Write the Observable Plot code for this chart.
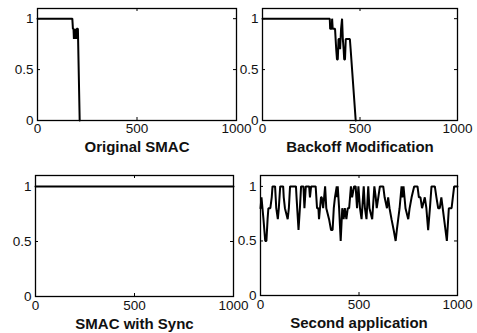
<!DOCTYPE html>
<html><head><meta charset="utf-8">
<script src="https://cdn.jsdelivr.net/npm/d3@7"></script>
<script src="https://cdn.jsdelivr.net/npm/@observablehq/plot@0.6"></script>
<style>
body{margin:0;background:#fff;}
#chart{position:relative;width:477px;height:333px;overflow:hidden;background:#fff;}
#chart svg{position:absolute;}
</style></head><body><div id="chart"></div>
<script>
const titles = ["Original SMAC", "Backoff Modification", "SMAC with Sync", "Second application"];
const xTicks = [0, 500, 1000];
const yTicks = [0, 0.5, 1];

// Original SMAC
const xOrig = [0, 175, 178, 181, 183, 185, 187, 189, 191, 193, 195, 197, 200, 203, 212];
const yOrig = [1, 1, 0.9, 0.9, 0.8, 0.9, 0.8, 0.9, 0.8, 0.9, 0.8, 0.9, 0.9, 0.9, 0];

// Backoff Modification
const xBack = [0, 345, 347, 355, 357, 360, 372, 378, 382, 386, 390, 395, 398, 403, 408, 412, 416, 419, 423, 427, 448, 452, 478];
const yBack = [1, 1, 0.9, 0.9, 1, 0.9, 0.9, 0.7, 0.6, 0.6, 0.8, 0.8, 0.7, 0.9, 1, 0.8, 0.7, 0.6, 0.6, 0.8, 0.8, 0.7, 0];

// SMAC with Sync
const xSync = [0, 1000];
const ySync = [1, 1];

// Second application
const xSec = [0, 5, 10, 15, 24, 30, 36, 40, 50, 57, 61, 74, 77, 80, 88, 93, 100, 115, 118, 124, 138, 144, 150, 180, 183, 193, 200, 206, 218, 223, 230, 247, 251, 257, 280, 287, 294, 297, 302, 307, 311, 318, 328, 334, 348, 358, 366, 372, 378, 387, 389, 392, 399, 407, 415, 422, 428, 436, 443, 450, 459, 465, 475, 483, 490, 497, 505, 513, 524, 530, 538, 547, 553, 567, 578, 585, 590, 598, 606, 623, 630, 642, 648, 655, 665, 676, 686, 692, 699, 706, 716, 720, 726, 736, 750, 757, 767, 780, 797, 804, 812, 820, 834, 842, 851, 860, 868, 885, 893, 902, 910, 918, 932, 946, 956, 970, 983, 1000];
const ySec = [0.8, 0.9, 0.8, 0.7, 0.5, 0.5, 0.7, 0.8, 0.8, 0.9, 1, 1, 0.9, 0.8, 0.7, 0.8, 1, 1, 0.9, 0.8, 0.7, 0.8, 1, 1, 0.9, 0.6, 0.8, 1, 1, 0.8, 1, 1, 0.9, 1, 1, 0.8, 0.8, 0.7, 0.8, 0.9, 0.9, 0.8, 1, 0.8, 0.7, 0.6, 0.6, 0.8, 0.9, 1, 0.9, 1, 0.8, 0.5, 0.8, 0.7, 0.8, 0.7, 0.8, 0.8, 1, 0.9, 1, 1, 0.8, 1, 0.8, 0.7, 1, 0.8, 0.7, 1, 0.8, 0.7, 1, 0.9, 0.8, 0.9, 1, 1, 0.9, 0.8, 0.9, 0.8, 0.7, 0.6, 0.5, 0.6, 0.7, 0.8, 1, 0.9, 1, 0.8, 0.7, 0.8, 0.9, 1, 1, 0.9, 0.9, 0.8, 0.9, 0.8, 0.6, 0.8, 1, 1, 0.9, 0.8, 0.8, 0.9, 0.7, 0.5, 0.8, 0.8, 1, 1];

const series = [[xOrig, yOrig], [xBack, yBack], [xSync, ySync], [xSec, ySec]];

const boxes = [
  {left: 0,   top: 0,   width: 238, height: 165, ml: 37, mr: 2,  mt: 8,  mb: 45, pad: 3, tdy: 27},
  {left: 238, top: 0,   width: 239, height: 165, ml: 24, mr: 20, mt: 8,  mb: 45, pad: 3, tdy: 27},
  {left: 0,   top: 165, width: 238, height: 168, ml: 35, mr: 5,  mt: 10, mb: 37, pad: 4, tdy: 28},
  {left: 238, top: 165, width: 239, height: 168, ml: 22, mr: 20, mt: 10, mb: 38, pad: 4, tdy: 28}
];

const chart = document.getElementById("chart");
const fmt = d => String(d);

series.forEach(([xs, ys], i) => {
  const b = boxes[i];
  const pw = b.width - b.ml - b.mr;
  const ph = b.height - b.mt - b.mb;
  const data = xs.map((x, j) => ({x, y: ys[j]}));
  const tl = 3;
  const svg = Plot.plot({
    width: b.width, height: b.height,
    marginLeft: b.ml, marginRight: b.mr, marginTop: b.mt, marginBottom: b.mb,
    style: {fontFamily: "'Liberation Sans', Arial, sans-serif", fontSize: "13.5px", background: "transparent", overflow: "visible", color: "#000"},
    x: {domain: [0, 1000]},
    y: {domain: [0, 1.1]},
    marks: [
      Plot.axisX(xTicks, {anchor: "bottom", tickSize: 0, tickPadding: b.pad, tickFormat: fmt, label: null, fill: "#111"}),
      Plot.axisY(yTicks, {anchor: "left", tickSize: 0, tickPadding: 4, tickFormat: fmt, label: null, fill: "#111"}),
      Plot.tickX(xTicks, {x: d => d, insetTop: ph - tl, stroke: "#000"}),
      Plot.tickX(xTicks, {x: d => d, insetBottom: ph - tl, stroke: "#000"}),
      Plot.tickY(yTicks, {y: d => d, insetRight: pw - tl, stroke: "#000"}),
      Plot.tickY(yTicks, {y: d => d, insetLeft: pw - tl, stroke: "#000"}),
      Plot.line(data, {x: "x", y: "y", stroke: "#000", strokeWidth: 2, strokeLinejoin: "miter"}),
      Plot.frame({stroke: "#000", strokeWidth: 1.3}),
      Plot.text([titles[i]], {frameAnchor: "bottom", dy: b.tdy, fontSize: 15, fontWeight: "bold", lineAnchor: "middle", fill: "#111"})
    ]
  });
  svg.style.left = b.left + "px";
  svg.style.top = b.top + "px";
  chart.appendChild(svg);
});
</script></body></html>
